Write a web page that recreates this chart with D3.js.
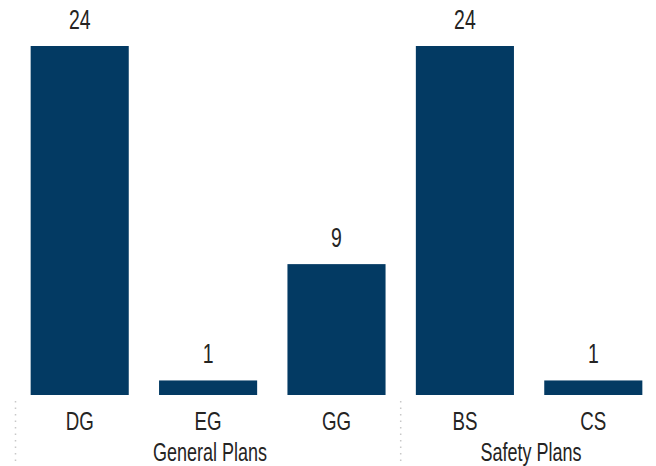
<!DOCTYPE html>
<html><head><meta charset="utf-8">
<script src="https://cdn.jsdelivr.net/npm/d3@7"></script>
<style>body{margin:0;background:#fff}text{font-family:"Liberation Sans",Arial,sans-serif;fill:#252423}</style>
</head><body><svg id="c" width="656" height="466"></svg>
<script>
const categories = ["DG","EG","GG","BS","CS"];
const values = [24,1,9,24,1];
const groups = ["General Plans","General Plans","General Plans","Safety Plans","Safety Plans"];
const groupNames = ["General Plans","Safety Plans"];

const svg = d3.select("#c");
const x = d3.scaleBand().domain(categories).range([15.5,657.5]).paddingInner(0.236).paddingOuter(0.118);
const y = d3.scaleLinear().domain([0,24]).range([395,46]);
const color = "#033A63";
const SX = 0.72;

function narrowText(sel, cx, by, size, txt){
  return sel.append("text").attr("transform",`translate(${cx},${by}) scale(${SX},1)`)
    .attr("text-anchor","middle").attr("font-size",size).text(txt);
}

svg.selectAll("rect.bar").data(categories).join("rect").attr("class","bar")
  .attr("x",d=>x(d)).attr("width",x.bandwidth())
  .attr("y",(d,i)=>y(values[i])).attr("height",(d,i)=>y(0)-y(values[i]))
  .attr("fill",color);

categories.forEach((c,i)=>{
  narrowText(svg, x(c)+x.bandwidth()/2, y(values[i])-17, 27, values[i]);
});

const axis = d3.axisBottom(x).tickSize(0).tickPadding(0);
const ag = svg.append("g").attr("transform","translate(0,395)").call(axis);
ag.select(".domain").remove();
ag.selectAll("text").attr("font-size",26).attr("dy",null).attr("y",0)
  .attr("transform",`translate(0,35) scale(${SX},1)`)
  .style("font-family",'"Liberation Sans",Arial,sans-serif').attr("fill","#252423");

groupNames.forEach(g=>{
  const cats = categories.filter((c,i)=>groups[i]===g);
  const x0 = x(cats[0]) - x.step()*x.paddingInner()/2;
  const x1 = x(cats[cats.length-1]) + x.bandwidth() + x.step()*x.paddingInner()/2;
  narrowText(svg, (x0+x1)/2 + 2, 461, 25, g);
  svg.append("line").attr("x1",x0).attr("x2",x0).attr("y1",401).attr("y2",466)
    .attr("stroke","#c8c8c8").attr("stroke-width",1.5).attr("stroke-dasharray","1.5,5");
});
</script></body></html>
